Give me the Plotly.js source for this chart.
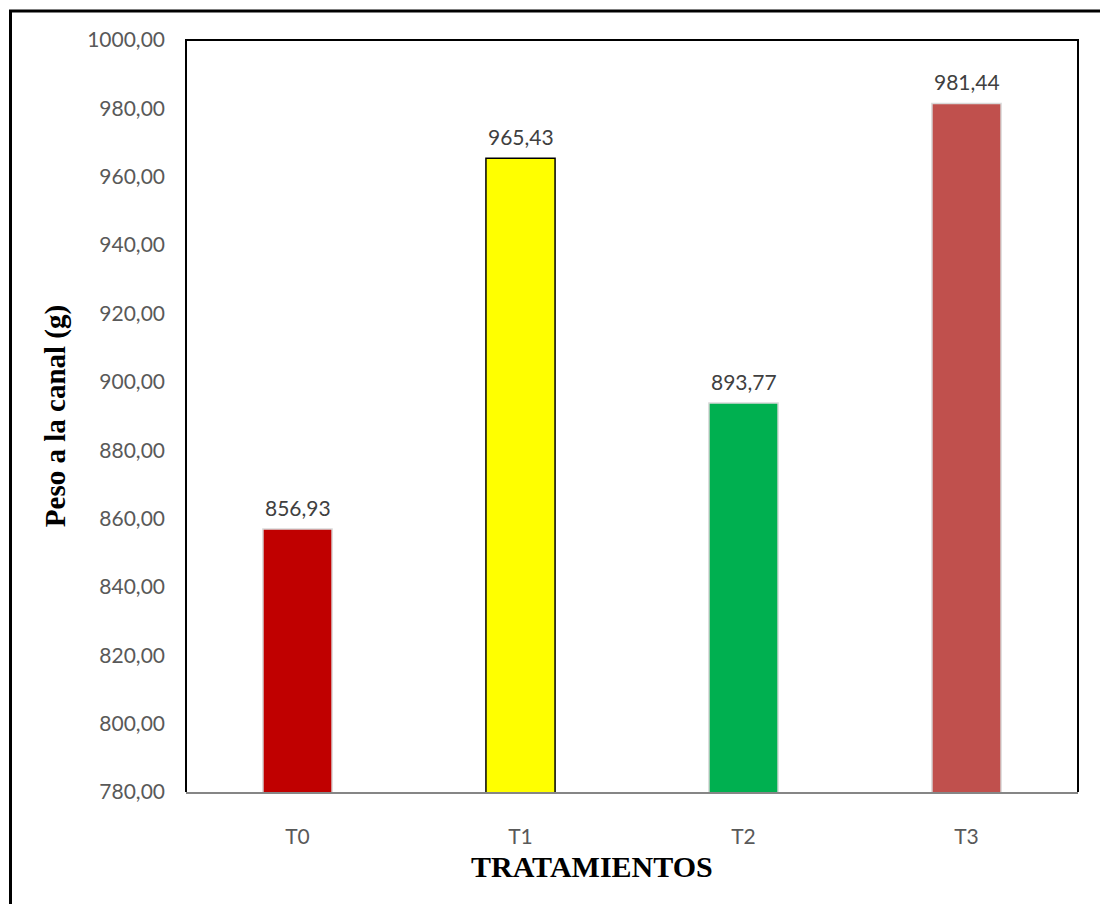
<!DOCTYPE html>
<html>
<head>
<meta charset="utf-8">
<script src="https://cdn.plot.ly/plotly-3.0.1.min.js"></script>
<style>
  html, body { margin: 0; padding: 0; background: #ffffff; }
  #chart { width: 1100px; height: 904px; }
</style>
</head>
<body>
<div id="chart"></div>
<script>
const categories = ["T0", "T1", "T2", "T3"];
const values = [856.93, 965.43, 893.77, 981.44];
const barColors = ["#C00000", "#FFFF00", "#00B050", "#C0504D"];
const barOutlines = ["#D9D9D9", "#000000", "#D9D9D9", "#D9D9D9"];
const yTitle = "Peso a la canal (g)";
const xTitle = "TRATAMIENTOS";
const yRange = [780, 1000];

function fmt(v) { return v.toFixed(2).replace(".", ","); }

const tickFontFamily = "Lato, 'Liberation Sans', sans-serif";
const titleFontFamily = "'Liberation Serif', 'Times New Roman', serif";

const trace = {
  type: "bar",
  x: categories,
  y: values,
  width: 0.31,
  marker: { color: barColors, line: { color: barOutlines, width: 1.5 } },
  hoverinfo: "x+y"
};

const annotations = categories.map((c, i) => ({
  x: c, y: values[i], xref: "x", yref: "y",
  text: fmt(values[i]), showarrow: false,
  yanchor: "bottom", yshift: 7,
  font: { family: tickFontFamily, size: 21, color: "#404040" }
}));

annotations.push({
  xref: "paper", yref: "paper",
  x: (592 - 186) / 892, y: (792 - 867) / 752,
  xanchor: "center", yanchor: "middle",
  text: "<b>" + xTitle + "</b>", showarrow: false,
  font: { family: titleFontFamily, size: 30, color: "#000000" }
});

const layout = {
  width: 1100, height: 904,
  margin: { l: 186, r: 22, t: 40, b: 112 },
  paper_bgcolor: "#ffffff", plot_bgcolor: "#ffffff",
  separators: ",.",
  showlegend: false,
  xaxis: {
    type: "category",
    showline: true, linecolor: "#868686", linewidth: 2,
    showgrid: false, zeroline: false, ticks: "",
    ticklabelstandoff: 25,
    tickfont: { family: tickFontFamily, size: 21, color: "#595959" }
  },
  yaxis: {
    range: yRange, dtick: 20, tick0: 780, tickformat: ".2f",
    showline: false, showgrid: false, zeroline: false, ticks: "",
    ticklabelstandoff: 20,
    tickfont: { family: tickFontFamily, size: 21, color: "#595959" },
    title: { text: yTitle, standoff: 12,
      font: { family: titleFontFamily, size: 29, color: "#000000", weight: "bold" } }
  },
  annotations: annotations,
  shapes: [
    { type: "path", xref: "paper", yref: "paper", path: "M0,0 L0,1 L1,1 L1,0",
      line: { color: "#000000", width: 2 }, layer: "above" },
    { type: "rect", xref: "paper", yref: "paper",
      x0: (10.5 - 186) / 892, x1: (1103 - 186) / 892,
      y0: (792 - 910) / 752, y1: 1 + (40 - 11) / 752,
      line: { color: "#000000", width: 3 }, layer: "above" }
  ]
};

Plotly.newPlot("chart", [trace], layout, { displayModeBar: false, staticPlot: true });
</script>
</body>
</html>
